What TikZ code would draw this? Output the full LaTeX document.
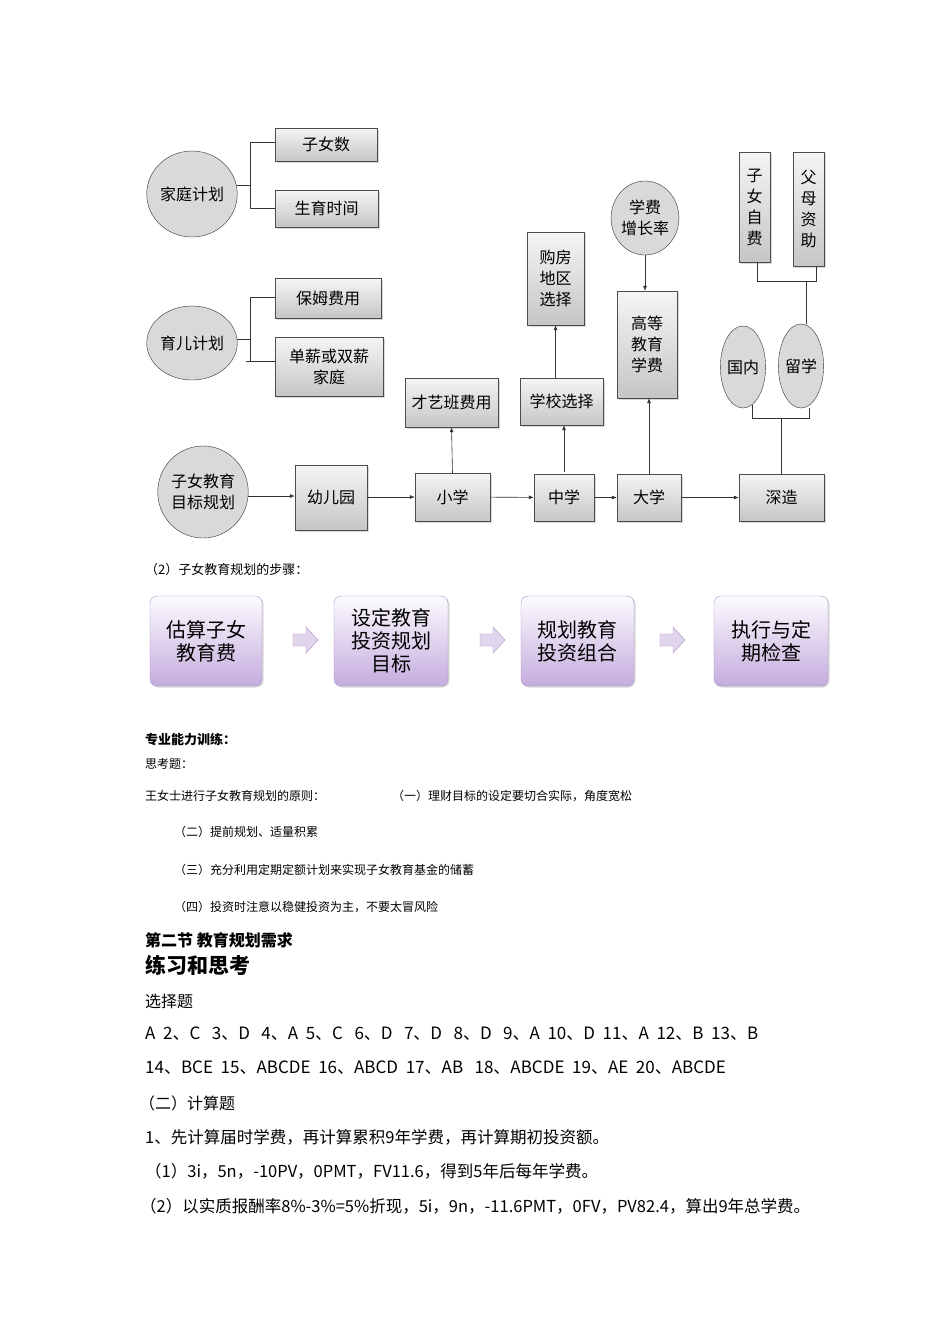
\documentclass[tikz,border=0pt]{standalone}
\usepackage{fontspec}
\setmainfont{Noto Sans CJK SC}
\usetikzlibrary{arrows.meta,shapes.geometric,shadows}
\definecolor{lav}{RGB}{196,172,222}
\definecolor{lavd}{RGB}{170,145,200}
\begin{document}
\begin{tikzpicture}[x=1pt,y=-1pt,
  gbox/.style={draw=black!70,top color=gray!8,bottom color=gray!45,drop shadow={opacity=0.3,shadow xshift=1.5pt,shadow yshift=-1.5pt},inner sep=0,font=\fontsize{16}{21}\selectfont,align=center},
  gell/.style={ellipse,draw=black!80,fill=gray!30,inner sep=0,font=\fontsize{16}{21}\selectfont,align=center},
  pbox/.style={draw=lavd,rounded corners=7pt,top color=white!95!lav,bottom color=lav,drop shadow={opacity=0.3,shadow xshift=1.5pt,shadow yshift=-1.5pt},inner sep=0,font=\fontsize{20}{23}\selectfont,align=center},
  parr/.style={draw=lavd,fill=lav!50},
  ln/.style={draw=black!80,line width=0.6pt},
  ar/.style={ln,-{Latex[length=5pt,width=4pt]}},
  txt/.style={anchor=west,inner sep=0,font=\fontsize{13}{15}\selectfont},
  big/.style={anchor=west,inner sep=0,font=\fontsize{17}{19}\selectfont}]
\useasboundingbox (0,0) rectangle (950,1344);
\fill[white] (0,0) rectangle (950,1344);
% family
\node[gell,minimum width=76pt,minimum height=86pt] (jt) at (192,194) {家庭计划};
\node[gbox,minimum width=102pt,minimum height=33pt] (zn) at (326,144.5) {子女数};
\node[gbox,minimum width=103pt,minimum height=37pt] (sy) at (326.5,208.5) {生育时间};
\node[gell,minimum width=76pt,minimum height=74pt] (ye) at (192,343) {育儿计划};
\node[gbox,minimum width=106pt,minimum height=40pt] (bm) at (328,298) {保姆费用};
\node[gbox,minimum width=108pt,minimum height=59pt] (dx) at (329,366.5) {单薪或双薪\\家庭};
\coordinate (b1) at (250,185);
\draw[ln] (jt.east |- b1) -- (b1);
\draw[ln] (258,142) -- (250,142) -- (250,208) -- (zn.west |- 0,208);
\draw[ln] (250,142) -- (zn.west |- 0,142);
\draw[ln] (ye.east |- 0,339) -- (250,339);
\draw[ln] (258,297) -- (250,297) -- (250,361) -- (dx.west |- 0,361);
\draw[ln] (250,297) -- (bm.west |- 0,297);
\draw[ln] (246,361) -- (250,361);
% main line
\node[gell,minimum width=80pt,minimum height=92pt] (mb) at (203,492) {子女教育\\目标规划};
\node[gbox,minimum width=72pt,minimum height=65pt] (ye2) at (331,497.5) {幼儿园};
\node[gbox,minimum width=75pt,minimum height=48pt] (xx) at (452.5,497) {小学};
\node[gbox,minimum width=60pt,minimum height=47pt] (zx) at (564,497.5) {中学};
\node[gbox,minimum width=64pt,minimum height=47pt] (dxue) at (649,497.5) {大学};
\node[gbox,minimum width=85pt,minimum height=47pt] (sz) at (781.5,497.5) {深造};
\draw[ar] (mb.east |- 0,496) -- (ye2.west |- 0,496);
\draw[ar] (ye2.east |- 0,497) -- (xx.west |- 0,497);
\draw[ar] (xx) -- (zx);
\draw[ar] (zx) -- (dxue);
\draw[ar] (dxue) -- (sz);
\node[gbox,minimum width=93pt,minimum height=49pt] (cy) at (451.5,402.5) {才艺班费用};
\node[gbox,minimum width=83pt,minimum height=47pt] (xxz) at (561.5,401.5) {学校选择};
\node[gbox,minimum width=57pt,minimum height=93pt] (gf) at (555.5,278.5) {购房\\地区\\选择};
\node[gell,minimum width=60pt,minimum height=74pt] (zz) at (645,218) {学费\\增长率};
\node[gbox,minimum width=60pt,minimum height=107pt] (gd) at (647,344.5) {高等\\教育\\学费};
\node[gbox,minimum width=31pt,minimum height=110pt] (zf) at (754.5,207) {子\\女\\自\\费};
\node[gbox,minimum width=31pt,minimum height=114pt] (fm) at (808.5,209) {父\\母\\资\\助};
\node[gell,minimum width=42pt,minimum height=82pt] (gn) at (743,367) {国内};
\node[gell,minimum width=42pt,minimum height=84pt] (lx) at (801,366) {留学};
\draw[ar] (xx.north) -- (cy.south);
\draw[ar] (xxz.south -| zx.north) ++(0,47) -- (xxz.south -| zx.north);
\draw[ar] (gf.south |- xxz.north) -- (gf.south);
\draw[ar] (dxue.north) -- (dxue.north |- gd.south);
\draw[ar] (zz.south) -- (zz.south |- gd.north);
\draw[ln] (zf.south -| 757,0) -- (757,281) -- (816,281) -- (fm.south -| 816,0);
\draw[ln] (806,281) -- (806,0 |- lx.north);
\draw[ln] (752,0 |- gn.south) ++(0,-3) -- (752,418) -- (809,418) -- (809,0 |- lx.south) ;
\draw[ln] (781,418) -- (781,0 |- sz.north);
% steps
\node[txt] (t0) at (145,570) {（2）子女教育规划的步骤：};
\node[pbox,minimum width=112pt,minimum height=90pt] (p1) at (206,641) {估算子女\\教育费};
\node[pbox,minimum width=114pt,minimum height=90pt] (p2) at (391,641) {设定教育\\投资规划\\目标};
\node[pbox,minimum width=113pt,minimum height=90pt] (p3) at (577.5,641) {规划教育\\投资组合};
\node[pbox,minimum width=114pt,minimum height=90pt] (p4) at (771,641) {执行与定\\期检查};
\foreach \x in {293,480,660}{
  \draw[parr] (\x,634) -- (\x+13,634) -- (\x+13,627) -- (\x+25,640) -- (\x+13,653) -- (\x+13,646) -- (\x,646) -- cycle;
}
% text
\node[txt,font=\bfseries\fontsize{13}{15}\selectfont] (t1) at (145,740) {专业能力训练：};
\node[txt,font=\fontsize{12}{14}\selectfont] (t2) at (145,764) {思考题：};
\node[txt,font=\fontsize{12}{14}\selectfont] (t3) at (145,796) {王女士进行子女教育规划的原则：};
\node[txt,font=\fontsize{12}{14}\selectfont] (t4) at (392,796) {（一）理财目标的设定要切合实际，角度宽松};
\node[txt,font=\fontsize{12}{14}\selectfont] (t5) at (174,832) {（二）提前规划、适量积累};
\node[txt,font=\fontsize{12}{14}\selectfont] (t6) at (174,870) {（三）充分利用定期定额计划来实现子女教育基金的储蓄};
\node[txt,font=\fontsize{12}{14}\selectfont] (t7) at (174,907) {（四）投资时注意以稳健投资为主，不要太冒风险};
\node[txt,font=\bfseries\fontsize{16}{18}\selectfont] (t8) at (145,940) {第二节 教育规划需求};
\node[txt,font=\bfseries\fontsize{21}{23}\selectfont] (t9) at (145,965) {练习和思考};
\node[txt,font=\fontsize{16}{18}\selectfont] (t10) at (145,1001) {选择题};
\node[big] (t11) at (145,1034) {A\ \ 2、C\ \ \ 3、D\ \ \ 4、A\ \ 5、C\ \ \ 6、D\ \ \ 7、D\ \ \ 8、D\ \ \ 9、A\ \ 10、D\ \ 11、A\ \ 12、B\ \ 13、B};
\node[big] (t12) at (145,1068) {14、BCE\ \ 15、ABCDE\ \ 16、ABCD\ \ 17、AB\ \ \ 18、ABCDE\ \ 19、AE\ \ 20、ABCDE};
\node[txt,font=\fontsize{16}{18}\selectfont] (t13) at (139,1103) {（二）计算题};
\node[txt,font=\fontsize{16.5}{18}\selectfont] (t14) at (145,1137) {1、先计算届时学费，再计算累积9年学费，再计算期初投资额。};
\node[txt,font=\fontsize{16.5}{18}\selectfont] (t15) at (145,1171) {（1）3i，5n，-10PV，0PMT，FV11.6，得到5年后每年学费。};
\node[txt,font=\fontsize{16.5}{18}\selectfont] (t16) at (140,1206) {（2）以实质报酬率8\%-3\%=5\%折现，5i，9n，-11.6PMT，0FV，PV82.4，算出9年总学费。};
\end{tikzpicture}
\end{document}
